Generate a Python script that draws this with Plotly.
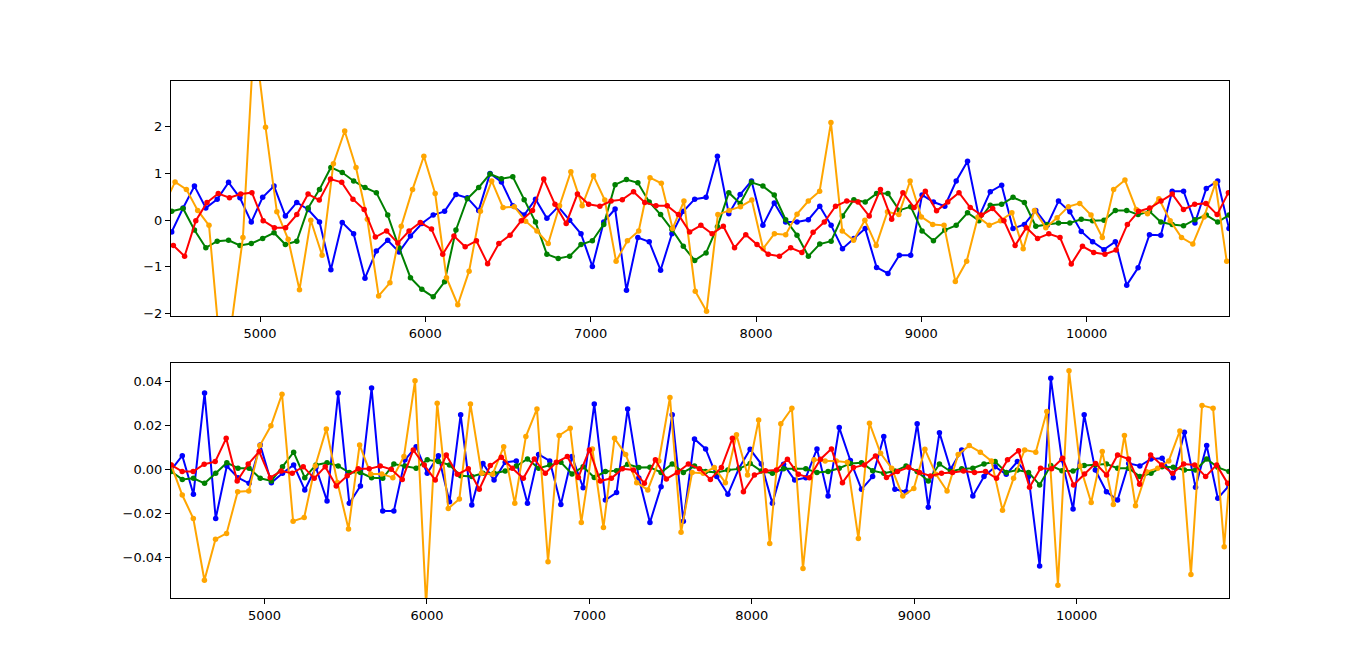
import numpy as np
import plotly.graph_objects as go

# ---- top panel values ----
top_blue = [
    -0.25, 0.26, 0.73, 0.26, 0.45, 0.81, 0.48, -0.04, 0.49, 0.73, 0.09, 0.38, 0.23, -0.04, -1.06, -0.05,
    -0.29, -1.24, -0.66, -0.43, -0.68, -0.34, -0.07, 0.11,
    0.19, 0.55, 0.48, 0.21, 1.0, 0.82, 0.31, 0.11, 0.45, 0.04, 0.29, 0.0, -0.29, -0.99, -0.04, 0.24,
    -1.5, -0.37, -0.46, -1.07, -0.29, 0.19, 0.45,
    0.49, 1.37, 0.14, 0.55, 0.84, -0.11, 0.37, -0.04, -0.04, 0.01, 0.3, -0.11, -0.61, -0.39, -0.18, -1.01,
    -1.14, -0.75, -0.75, 0.54, 0.39, 0.3, 0.84,
    1.26, 0.07, 0.61, 0.75, -0.18, -0.09, 0.21, -0.11, 0.41, 0.18, -0.24, -0.46, -0.63, -0.46, -1.39, -1.02,
    -0.31, -0.32, 0.62, 0.62, -0.06, 0.68, 0.84, -0.18,
]
top_green = [
    0.19, 0.25, -0.21, -0.59, -0.45, -0.43, -0.54, -0.5, -0.39, -0.27, -0.52, -0.45, 0.26, 0.66, 1.13, 1.02,
    0.84, 0.7, 0.59, 0.11, -0.59, -1.23, -1.48, -1.64, -1.32,
    -0.21, 0.46, 0.7, 0.99, 0.89, 0.93, 0.44, -0.04, -0.73, -0.82, -0.77, -0.52, -0.44, -0.09, 0.76, 0.87,
    0.8, 0.39, 0.12, -0.2, -0.56, -0.86,
    -0.7, -0.14, 0.59, 0.36, 0.81, 0.73, 0.54, 0.01, -0.32, -0.77, -0.51, -0.45, 0.09, 0.44, 0.39, 0.57,
    0.57, 0.21, 0.29, -0.23, -0.44, -0.21, -0.11,
    0.16, -0.01, 0.32, 0.34, 0.49, 0.38, -0.13, -0.09, -0.06, -0.06, 0.02, -0.01, 0.0, 0.21, 0.21, 0.12,
    0.19, -0.04, -0.09, -0.12, 0.01, 0.11, -0.04, 0.11,
]
top_red = [
    -0.54, -0.77, -0.01, 0.38, 0.57, 0.48, 0.56, 0.59, -0.01, -0.16, -0.16, 0.12, 0.56, 0.43, 0.88, 0.81,
    0.45, 0.23, -0.36, -0.23, -0.49, -0.23, -0.05, -0.19,
    -0.73, -0.34, -0.57, -0.44, -0.93, -0.5, -0.32, -0.01, 0.21, 0.88, 0.34, -0.07, 0.56, 0.34, 0.3, 0.41,
    0.44, 0.61, 0.38, 0.31, 0.31, 0.12, -0.25,
    -0.11, -0.29, -0.13, -0.59, -0.31, -0.52, -0.73, -0.77, -0.59, -0.69, -0.26, -0.04, 0.3, 0.41, 0.39,
    0.09, 0.66, 0.02, 0.59, 0.27, 0.62, 0.2, 0.39,
    0.59, 0.27, 0.11, 0.25, -0.01, -0.54, -0.16, -0.39, -0.29, -0.37, -0.94, -0.56, -0.69, -0.73, -0.64,
    -0.09, 0.19, 0.26, 0.41, 0.56, 0.23, 0.34, 0.36, 0.12, 0.59,
]
top_orange = [
    0.31,
    0.82, 0.66, 0.21, -0.11, -2.8, -2.2, -0.37, 4.0, 1.99, 0.18, -0.41, -1.49, 0.0, -0.75, 1.21, 1.91,
    1.13, 0.02, -1.62, -1.34, -0.13, 0.66, 1.37, 0.57,
    -1.23, -1.81, -1.09, 0.19, 0.84, 0.27, 0.29, -0.02, -0.23, -0.5, 0.31, 1.04, 0.31, 0.95, 0.43, -0.88,
    -0.44, -0.23, 0.91, 0.79, -0.18, 0.41, -1.52,
    -1.95, 0.12, 0.21, 0.29, 0.43, -0.61, -0.29, -0.31, 0.13, 0.41, 0.62, 2.09, -0.23, -0.43, 0.0, -0.54,
    0.18, 0.12, 0.84, 0.07, -0.09, -0.11, -1.31,
    -0.88, 0.07, -0.11, -0.01, 0.16, -0.61, 0.21, -0.16, 0.05, 0.29, 0.36, 0.11, -0.37, 0.66, 0.86, 0.23,
    0.14, 0.46, -0.01, -0.37, -0.51, 0.07, 0.79, -0.88,
]

# ---- bottom panel values ----
bot_blue = [
    -0.0003, 0.0062, -0.0114, 0.0347, -0.0224, 0.0015, -0.0038, -0.0064, 0.0111, -0.0061, -0.0018, 0.002,
    -0.0094, 0.0008, -0.0144, 0.0347, -0.0155, -0.0076, 0.037, -0.019, -0.019, 0.0043, 0.0103, -0.0018, 0.0062,
    -0.0148, 0.0248, -0.0163, 0.0027, -0.0049, 0.0032, 0.0038, -0.0155, 0.0068, 0.0038, -0.016, 0.0058,
    -0.0084, 0.0297, -0.014, -0.0106, 0.0275, -0.004, -0.0242, -0.0079, 0.0248, -0.0236, 0.0138,
    0.0093, -0.0033, -0.0114, 0.0005, 0.0091, 0.0024, -0.0155, 0.0023, -0.0049, -0.0038, 0.0093, -0.0122,
    0.019, 0.004, -0.0091, -0.0033, 0.0149, -0.0091, -0.0102, 0.0207, -0.0173, 0.0167, 0.0,
    0.0088, -0.0122, -0.0033, 0.0012, -0.0023, 0.0035, -0.0033, -0.044, 0.0415, 0.0043, -0.0181, 0.0248,
    -0.0003, -0.0102, -0.014, 0.0027, 0.0015, 0.0047, 0.005, -0.0038, 0.0169, -0.0082, 0.0108, -0.0132, -0.0075,
]
bot_green = [
    -0.001, -0.0046, -0.0041, -0.0064, -0.0018, 0.003, 0.0005, 0.0005, -0.0041, -0.0053, 0.0012, 0.0078,
    -0.0038, 0.002, 0.003, 0.0015, -0.0015, -0.0015, -0.0038, -0.0041, 0.0024, 0.0015, 0.0005, 0.0043, 0.0035,
    0.002, -0.0029, -0.0033, -0.0018, -0.0018, -0.0008, 0.0015, 0.0047, 0.0005, 0.002, 0.0032, -0.0021,
    0.0012, -0.0037, -0.001, -0.0006, 0.0023, 0.0008, 0.0009, -0.0014, 0.0024, -0.0014, 0.0015,
    -0.001, -0.0014, -0.0003, 0.0002, 0.0027, -0.0008, -0.0018, 0.0002, 0.0002, 0.0002, -0.0015, -0.001,
    0.0005, 0.0027, 0.003, -0.0006, -0.0018, -0.0008, 0.0015, -0.001, -0.0053, 0.0024, -0.001,
    0.0002, 0.0005, 0.0024, 0.0035, -0.0014, -0.0003, -0.0014, -0.0071, 0.0017, -0.0006, -0.0008, 0.0017,
    0.002, 0.0024, 0.0005, 0.0005, -0.0033, -0.0018, 0.0012, 0.0009, -0.0003, -0.0003, 0.0047, 0.0009, -0.001,
]
bot_red = [
    0.002, -0.001, -0.001, 0.0023, 0.0035, 0.0141, -0.0053, 0.0024, 0.0081, -0.0038, -0.0008, -0.0018,
    0.0012, -0.0041, 0.0012, -0.0076, -0.0029, 0.0002, 0.0002, 0.0015, 0.0, -0.0046, 0.0088, 0.002, -0.0049,
    0.0065, -0.0023, 0.0002, -0.0091, 0.0017, 0.0055, 0.0005, -0.0041, 0.0047, -0.0018, 0.0032, 0.0058,
    -0.0037, 0.0088, -0.0053, -0.0041, 0.0002, -0.0003, -0.0064, 0.0043, -0.0044, -0.0014, 0.0024,
    0.0002, -0.0046, 0.0008, 0.0141, -0.0102, -0.0026, -0.0006, -0.0003, 0.0046, -0.0023, -0.0038, 0.0046,
    0.0093, -0.0061, 0.0008, 0.002, 0.0061, -0.0037, -0.001, 0.0009, -0.0014, -0.003, -0.0018, -0.0014,
    -0.0008, -0.0014, -0.001, -0.0041, 0.0043, 0.0084, -0.0082, 0.0005, 0.0002, 0.005, -0.0071, -0.0021,
    0.0027, -0.0026, 0.0065, 0.0047, -0.0068, 0.0065, 0.002, -0.0018, 0.0024, 0.002, -0.0033, 0.002, -0.0064,
]
bot_orange = [
    0.002, -0.0117, -0.0224, -0.0505, -0.0318, -0.0292, -0.0102, -0.0099, 0.0108, 0.0198, 0.0342, -0.0236,
    -0.0219, 0.0015, 0.0184, -0.006, -0.0272, 0.0111, -0.0021, -0.0021, -0.0038, 0.0058, 0.0403, -0.062, 0.0301,
    -0.0178, -0.0135, 0.0297, -0.0018, -0.0023, 0.0103, -0.0155, 0.0149, 0.0275, -0.0421, 0.0154, 0.0187,
    -0.0242, 0.0093, -0.0265, 0.0141, 0.0068, -0.0061, -0.0094, 0.0038, 0.0327, -0.0287, -0.0015,
    -0.0018, 0.0008, -0.0061, 0.0157, -0.0026, 0.0225, -0.0338, 0.0207, 0.0278, -0.0452, 0.0043, 0.0038,
    0.0038, 0.0032, -0.0315, 0.021, 0.0073, 0.0005, -0.0122, -0.0087, 0.0091, -0.0023, -0.0099,
    0.0068, 0.0108, 0.0078, 0.0038, -0.0186, -0.0041, 0.0088, 0.0078, 0.0263, -0.0528, 0.0449, 0.0015,
    -0.0151, 0.0081, -0.016, 0.0154, -0.0166, -0.0011, 0.0005, 0.0038, 0.0175, -0.0479, 0.0291, 0.0278,
    -0.0353, 0.03,
]

# sample spans (first / last x of each series)
top_spans = {"blue": (4466, 10861), "green": (4466, 10861), "red": (4476, 10857), "orange": (4418, 10847)}
bot_spans = {"blue": (4425, 10938), "green": (4425, 10938), "red": (4425, 10930), "orange": (4425, 10977)}

top_xrange = [4461.7, 10860.8]
top_yrange = [-2.05, 2.98]
bot_xrange = [4424, 10938.4]
bot_yrange = [-0.0586, 0.0484]

colors = {"blue": "#0000ff", "green": "#008000", "red": "#ff0000", "orange": "#ffa500"}
top_series = {"blue": top_blue, "green": top_green, "orange": top_orange, "red": top_red}
bot_series = {"blue": bot_blue, "green": bot_green, "orange": bot_orange, "red": bot_red}

fig = go.Figure()


def add_series(series, spans, xa, ya):
    for name, vals in series.items():
        x0, x1 = spans[name]
        xs = np.linspace(x0, x1, len(vals))
        fig.add_trace(
            go.Scatter(
                x=xs,
                y=vals,
                mode="lines+markers",
                line=dict(color=colors[name], width=2),
                marker=dict(color=colors[name], size=5.5),
                xaxis=xa,
                yaxis=ya,
                showlegend=False,
            )
        )


add_series(top_series, top_spans, "x", "y")
add_series(bot_series, bot_spans, "x2", "y2")

font = dict(family="DejaVu Sans", size=13, color="black")
axis_style = dict(
    showgrid=False,
    zeroline=False,
    showline=True,
    linecolor="black",
    linewidth=1,
    mirror=True,
    ticks="outside",
    ticklen=5,
    tickwidth=1,
    tickcolor="black",
    tickfont=font,
)

# the page body adds an 8px offset, so margins are trimmed by that much
fig.update_layout(
    width=1366,
    height=672,
    margin=dict(l=163, r=145, t=73, b=82),
    plot_bgcolor="white",
    paper_bgcolor="white",
    font=font,
    xaxis=dict(
        domain=[0, 1], anchor="y", range=top_xrange,
        tickvals=[5000, 6000, 7000, 8000, 9000, 10000], tickformat="d", **axis_style
    ),
    yaxis=dict(
        domain=[0.5455, 1], anchor="x", range=top_yrange,
        tickvals=[-2, -1, 0, 1, 2], **axis_style
    ),
    xaxis2=dict(
        domain=[0, 1], anchor="y2", range=bot_xrange,
        tickvals=[5000, 6000, 7000, 8000, 9000, 10000], tickformat="d", **axis_style
    ),
    yaxis2=dict(
        domain=[0, 0.4545], anchor="x2", range=bot_yrange,
        tickvals=[-0.04, -0.02, 0.0, 0.02, 0.04], tickformat=".2f", **axis_style
    ),
)

fig.write_html("out.html")
